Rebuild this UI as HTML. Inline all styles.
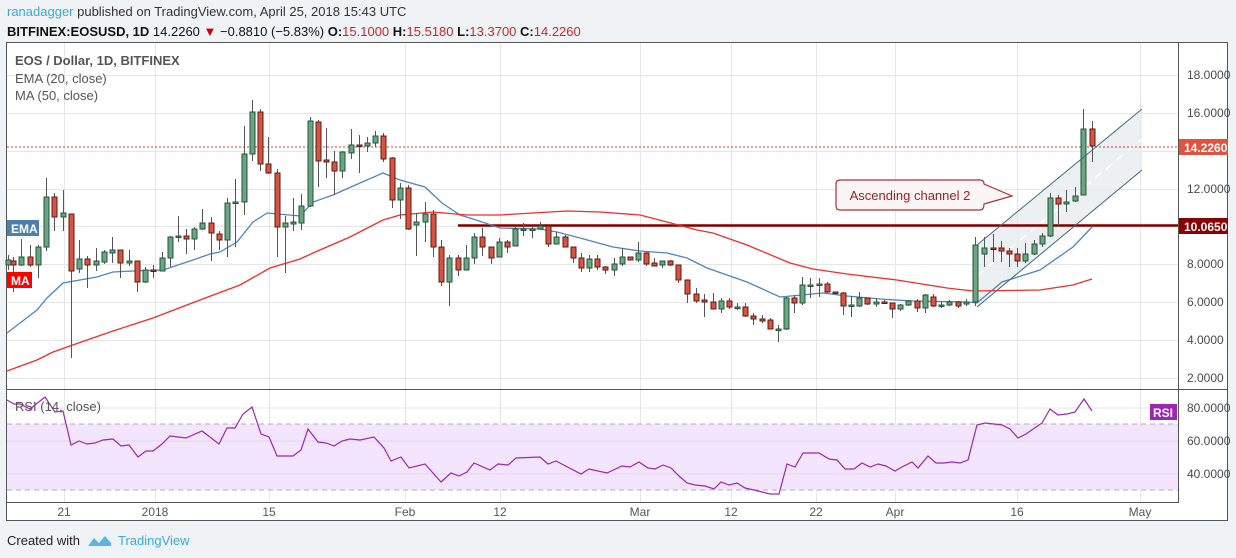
<!DOCTYPE html>
<html><head><meta charset="utf-8"><style>
body{margin:0;width:1236px;height:558px;background:#f0f3f6;font-family:"Liberation Sans",sans-serif;overflow:hidden;position:relative}
.t{position:absolute;white-space:nowrap}
</style></head><body>
<div class="t" style="left:7px;top:4px;font-size:13px;color:#333"><span style="color:#3ba7e0">ranadagger</span> published on TradingView.com, April 25, 2018 15:43 UTC</div>
<div class="t" style="left:7px;top:24px;font-size:13px;color:#111;font-weight:bold">BITFINEX:EOSUSD, 1D <span style="font-weight:normal">14.2260 <span style="color:#c00">▼</span> −0.8810 (−5.83%)</span> O:<span style="color:#c62828;font-weight:normal">15.1000</span> H:<span style="color:#c62828;font-weight:normal">15.5180</span> L:<span style="color:#c62828;font-weight:normal">13.3700</span> C:<span style="color:#c62828;font-weight:normal">14.2260</span></div>
<svg width="1236" height="558" style="position:absolute;left:0;top:0" id="s">
<rect x="6.5" y="42.5" width="1221" height="478" fill="#fff" stroke="#555"/>
<g stroke="#e6e6e6" stroke-width="1" id="grid"></g>
<rect x="7" y="424" width="1171" height="66" fill="#f3e5fd"/>
<g stroke="#e3d6e6"><line x1="7" x2="1178" y1="441" y2="441"/><line x1="7" x2="1178" y1="474" y2="474"/><line x1="7" x2="1178" y1="408" y2="408" stroke="#e6e6e6"/></g>
<g stroke="#b9a9bd" stroke-dasharray="5,4"><line x1="7" x2="1178" y1="424" y2="424"/><line x1="7" x2="1178" y1="490" y2="490"/></g>
<polygon points="977,245 1142,109 1142,170 977,307" fill="#e9ecef" opacity="0.8"/>
<line x1="977" y1="276" x2="1142" y2="139" stroke="#fff" stroke-width="1.5" stroke-dasharray="8,6"/>
<line x1="458" y1="225.5" x2="1178" y2="225.5" stroke="#8b0000" stroke-width="3" opacity="0.75"/>
<line x1="458" y1="225.5" x2="1178" y2="225.5" stroke="#7a0000" stroke-width="1"/>
<line x1="7" y1="147" x2="1178" y2="147" stroke="#e53935" stroke-dasharray="2,2"/>
<polyline fill="none" stroke="#4e86b8" stroke-width="1.3" points="7,333 37,310 47,298 63,283 97,277 113,272 133,271 163,270 193,260 210,254 220,252 237,242 253,222 267,213 300,216 313,202 333,195 360,183 383,173 400,180 425,187 442,203 460,215 473,219 500,228 540,229 557,232 580,238 613,247 640,251 667,253 687,258 707,268 747,282 780,297 823,293 847,296 880,299 913,301 968,302 977,303 1002,282 1040,270 1073,247 1092,227"/>
<polyline fill="none" stroke="#f42b2b" stroke-width="1.3" points="7,371 37,360 53,352 87,340 113,331 153,318 200,300 240,285 270,268 300,259 313,253 350,237 383,220 400,215 433,212 467,215 500,215 533,213 567,211 600,212 640,215 667,222 697,230 713,233 747,245 790,263 813,269 847,274 897,280 947,288 973,291 1040,290 1073,285 1092,279"/>
<g id="c"></g>
<line x1="977" y1="245" x2="1142" y2="109" stroke="#3d6a78" stroke-width="1"/>
<line x1="977" y1="307" x2="1142" y2="170" stroke="#3d6a78" stroke-width="1"/>
<path d="M840,180 H980 Q984,180 984,184 L1012,196 L984,204 Q984,210 980,210 H840 Q836,210 836,206 V184 Q836,180 840,180 Z" fill="#fbf5f5" stroke="#a33" stroke-width="1.2"/>
<text x="910" y="200" font-size="13" fill="#9b2226" text-anchor="middle" font-family="Liberation Sans,sans-serif">Ascending channel 2</text>
<polyline fill="none" stroke="#9c27b0" stroke-width="1.2" points="7,400 14,404 20,404 30,409 45,397 55,412 63,411 71,445 79,441 87,444 95,443 103,440 113,439 121,446 129,445 138,457 146,451 153,451 162,444 170,436 178,437 186,438 202,431 219,444 227,428 235,428 243,414 252,407 261,434 269,437 277,456 293,456 301,450 308,429 318,442 326,443 334,446 342,441 350,439 360,440 374,437 384,448 391,461 401,457 409,468 425,464 441,482 451,473 459,476 467,472 474,463 490,470 498,464 508,465 516,458 540,457 548,464 556,461 581,474 589,469 607,473 622,466 630,467 639,462 648,468 655,469 663,465 671,468 679,476 687,483 695,485 705,486 714,489 721,482 729,485 737,483 745,488 754,490 762,492 770,494 779,494 787,464 795,467 803,453 819,453 829,459 837,460 845,469 854,469 862,463 870,467 878,464 886,466 895,471 902,467 912,462 918,468 928,456 936,463 944,463 952,462 960,463 968,460 977,425 985,423 994,424 1002,425 1010,429 1018,438 1026,434 1042,423 1050,409 1058,415 1067,414 1075,412 1084,399 1092,411"/>
<line x1="6" y1="389.5" x2="1228" y2="389.5" stroke="#555"/>
<line x1="7" y1="502.5" x2="1178" y2="502.5" stroke="#555"/>
<line x1="1178.5" y1="42" x2="1178.5" y2="503" stroke="#555"/>
<g font-size="12" fill="#4a4a4a" font-family="Liberation Sans,sans-serif">
<text x="1187" y="79">18.0000</text><text x="1187" y="117">16.0000</text><text x="1187" y="193">12.0000</text><text x="1187" y="268">8.0000</text><text x="1187" y="306">6.0000</text><text x="1187" y="344">4.0000</text><text x="1187" y="382">2.0000</text>
<text x="1187" y="412">80.0000</text><text x="1187" y="445">60.0000</text><text x="1187" y="478">40.0000</text>
</g>
<rect x="1179" y="139" width="49" height="16" fill="#e0533e"/><text x="1184" y="152" font-size="12" font-weight="bold" fill="#fff">14.2260</text>
<rect x="1179" y="218" width="49" height="16" fill="#8b0000"/><text x="1184" y="231" font-size="12" font-weight="bold" fill="#fff">10.0650</text>
<rect x="1150" y="404" width="27" height="16" fill="#9c27b0"/><text x="1153" y="417" font-size="12" font-weight="bold" fill="#fff">RSI</text>
<rect x="7" y="220" width="32" height="16" fill="#4a7fb0"/><text x="11" y="233" font-size="12" font-weight="bold" fill="#fff">EMA</text>
<rect x="7" y="272" width="25" height="16" fill="#f00"/><text x="11" y="285" font-size="12" font-weight="bold" fill="#fff">MA</text>
<g font-size="12" fill="#555" text-anchor="middle" id="tl">
<text x="64" y="516">21</text><text x="155" y="516">2018</text><text x="269" y="516">15</text><text x="405" y="516">Feb</text><text x="500" y="516">12</text><text x="640" y="516">Mar</text><text x="731" y="516">12</text><text x="816" y="516">22</text><text x="895" y="516">Apr</text><text x="1017" y="516">16</text><text x="1140" y="516">May</text>
</g>
<g font-size="13" fill="#555"><text x="15" y="65" font-weight="bold">EOS / Dollar, 1D, BITFINEX</text><text x="15" y="83">EMA (20, close)</text><text x="15" y="100">MA (50, close)</text><text x="15" y="411">RSI (14, close)</text></g>
<text x="7" y="545" font-size="13" fill="#222">Created with</text>
<path d="M88,546 l6,-8 5,5 6,-7 6,7 v3 z" fill="#5ab4e6"/>
<text x="118" y="545" font-size="13" fill="#3ba7e0">TradingView</text>
</svg>
<script>
var g=document.getElementById('grid'),ns='http://www.w3.org/2000/svg';
[64,155,269,405,500,640,731,816,895,1017,1140].forEach(function(x){var l=document.createElementNS(ns,'line');l.setAttribute('x1',x+.5);l.setAttribute('x2',x+.5);l.setAttribute('y1',43);l.setAttribute('y2',502);g.appendChild(l);});
[75,113,151,189,226,264,302,340,378].forEach(function(y){var l=document.createElementNS(ns,'line');l.setAttribute('x1',7);l.setAttribute('x2',1178);l.setAttribute('y1',y+.5);l.setAttribute('y2',y+.5);g.appendChild(l);});
var d=[[8,265,260,255,270],[13,261,265,257,292],[21,265,257,239,266],[30,257,265,245,267],[38,265,247,245,278],[46,247,197,178,251],[54,197,217,193,231],[63,217,213,190,231],[71,214,271,214,358],[79,269,259,240,273],[87,259,265,256,288],[96,265,261,248,271],[104,262,252,250,264],[112,253,250,237,263],[120,250,263,250,278],[129,263,261,250,266],[137,261,282,261,292],[145,282,270,267,283],[153,270,271,265,278],[162,271,258,252,271],[170,258,237,236,267],[178,237,236,216,242],[186,236,239,229,254],[194,239,229,227,250],[202,229,223,209,230],[211,223,233,217,261],[219,234,240,231,250],[227,240,203,198,257],[235,203,202,179,247],[244,202,154,126,215],[252,154,112,100,161],[260,112,164,109,171],[268,164,173,137,174],[277,173,227,169,257],[285,227,223,216,273],[293,224,222,198,231],[301,223,206,194,230],[310,206,121,117,207],[318,122,161,120,187],[326,160,162,128,178],[334,162,171,151,195],[342,171,152,151,178],[351,153,145,129,159],[359,145,146,135,173],[367,146,143,137,152],[375,143,136,131,147],[383,136,159,133,162],[392,158,200,157,208],[400,200,188,183,219],[408,188,229,185,230],[416,225,222,213,256],[425,222,214,202,242],[433,214,247,210,257],[441,247,282,240,286],[449,282,258,255,306],[458,258,270,255,276],[466,270,258,245,270],[474,258,237,233,264],[482,237,247,228,256],[491,247,258,247,264],[499,257,242,238,257],[507,242,247,240,253],[515,246,229,227,246],[523,229,229,223,236],[532,229,229,227,238],[540,229,226,222,230],[548,226,244,226,247],[556,244,237,232,244],[565,237,247,235,247],[573,247,258,247,263],[581,258,268,253,272],[589,268,259,255,272],[597,259,267,255,270],[605,267,270,266,274],[614,270,264,258,276],[622,264,257,248,266],[630,257,260,257,260],[638,260,253,242,262],[646,253,264,252,266],[654,263,266,258,266],[662,265,261,261,268],[670,261,265,260,266],[678,265,280,265,283],[687,280,294,280,303],[696,294,301,288,303],[704,300,302,294,317],[713,302,309,293,309],[721,309,301,298,313],[729,301,307,298,309],[737,307,307,303,310],[745,307,316,303,317],[753,316,319,313,325],[762,319,321,315,323],[770,320,329,318,329],[778,329,329,325,342],[786,329,298,297,330],[794,298,303,295,313],[802,303,285,277,305],[810,285,285,278,298],[819,285,284,278,297],[827,284,292,282,293],[835,292,293,292,294],[843,293,306,292,315],[851,306,305,296,317],[859,306,298,292,307],[867,298,304,298,305],[876,304,302,298,307],[884,302,303,300,304],[892,303,309,303,318],[900,309,305,304,311],[908,305,301,300,306],[917,301,308,299,312],[925,308,295,294,313],[933,297,306,294,307],[941,305,305,302,308],[949,305,302,300,306],[958,302,306,301,308],[966,304,302,299,306],[975,302,245,237,306],[984,254,248,237,267],[993,248,249,234,262],[1001,248,251,241,262],[1009,251,254,248,267],[1017,254,261,248,267],[1025,261,254,243,263],[1034,254,244,240,255],[1042,244,236,233,247],[1050,236,198,193,237],[1058,198,204,195,227],[1066,204,202,190,212],[1075,201,196,187,202],[1083,195,129,109,195],[1092,129,146,121,162]];
var c=document.getElementById('c'),h='';
d.forEach(function(a){var x=a[0],o=a[1],cl=a[2],up=cl<=o,t=Math.min(o,cl),b=Math.max(o,cl);
h+='<line x1="'+(x+.5)+'" x2="'+(x+.5)+'" y1="'+a[3]+'" y2="'+a[4]+'" stroke="#555"/>';
h+='<rect x="'+(x-2)+'" y="'+t+'" width="5" height="'+Math.max(b-t,1.5)+'" fill="'+(up?'#6ba583':'#d75442')+'" stroke="'+(up?'#225437':'#5b1a13')+'" stroke-width="1"/>';});
c.innerHTML=h;
</script>
</body></html>
